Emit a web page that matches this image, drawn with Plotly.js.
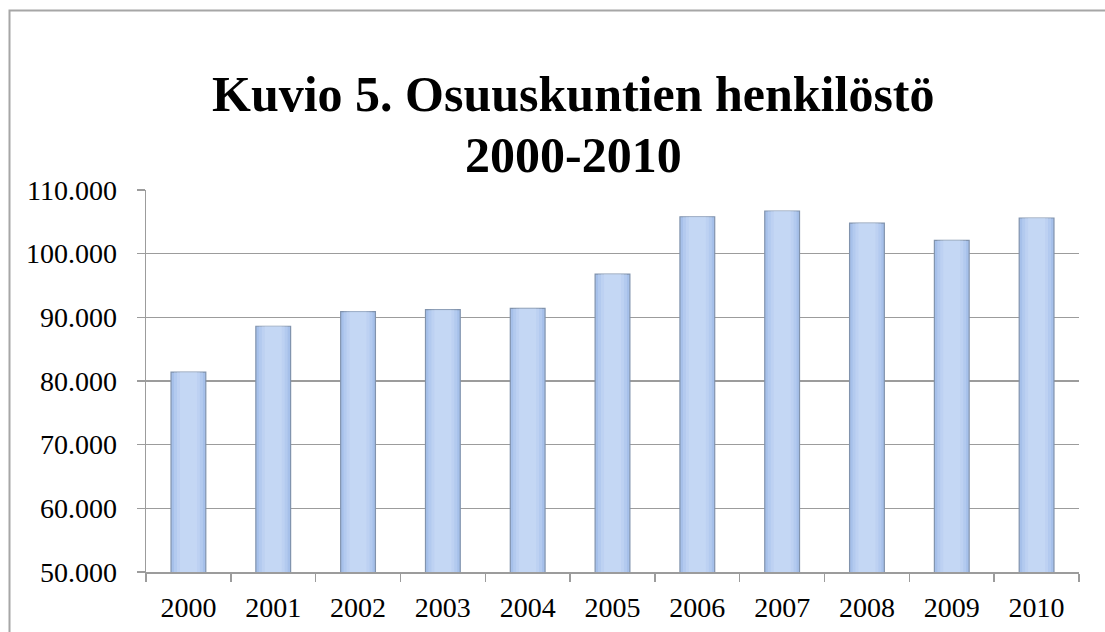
<!DOCTYPE html>
<html>
<head>
<meta charset="utf-8">
<script src="https://cdn.plot.ly/plotly-3.0.1.min.js"></script>
<style>
  html, body { margin: 0; padding: 0; background: #ffffff; }
  #chart { width: 1105px; height: 632px; }
</style>
</head>
<body>
<div id="chart"></div>
<script>
// Data
const years = ['2000', '2001', '2002', '2003', '2004', '2005', '2006', '2007', '2008', '2009', '2010'];
const staff = [81400, 88600, 90900, 91200, 91400, 96800, 105800, 106700, 104800, 102100, 105600];
const yTickValues = [50000, 60000, 70000, 80000, 90000, 100000, 110000];
const yTickLabels = ['50.000', '60.000', '70.000', '80.000', '90.000', '100.000', '110.000'];
const titleLine1 = 'Kuvio 5. Osuuskuntien henkilöstö';
const titleLine2 = '2000-2010';

const gridColor = '#9c9c9c';
const serif = 'Liberation Serif, Times New Roman, serif';

// base bar plus soft, progressively narrower highlight layers (same data)
const traces = [
  {
    type: 'bar',
    x: years,
    y: staff,
    width: 0.41,
    marker: { color: '#a6c0ea', line: { color: '#8193ad', width: 1.2 } },
    hoverinfo: 'x+y'
  }
];
const highlightWidths = [0.34, 0.27, 0.2];
highlightWidths.forEach(function (w) {
  traces.push({
    type: 'bar',
    x: years,
    y: staff,
    width: w,
    marker: { color: 'rgba(214,230,252,0.28)', line: { width: 0 } },
    hoverinfo: 'skip'
  });
});

const layout = {
  width: 1105,
  height: 632,
  margin: { l: 146, r: 26, t: 190, b: 60 },
  paper_bgcolor: '#ffffff',
  plot_bgcolor: '#ffffff',
  showlegend: false,
  barmode: 'overlay',
  font: { family: serif, color: '#000000', size: 28 },
  xaxis: {
    type: 'category',
    tickson: 'boundaries',
    ticks: 'outside',
    ticklen: 8,
    tickwidth: 1.5,
    tickcolor: gridColor,
    showline: true,
    linecolor: gridColor,
    linewidth: 1.5,
    showgrid: false,
    ticklabelstandoff: 10,
    tickfont: { family: serif, size: 28, color: '#000000' }
  },
  yaxis: {
    range: [50000, 110000],
    tickvals: yTickValues,
    ticktext: yTickLabels,
    ticks: 'outside',
    ticklen: 8,
    tickwidth: 1.5,
    tickcolor: gridColor,
    showline: true,
    linecolor: gridColor,
    linewidth: 1.5,
    showgrid: true,
    gridcolor: gridColor,
    gridwidth: 1.5,
    zeroline: false,
    ticklabelstandoff: 14,
    tickfont: { family: serif, size: 28, color: '#000000' }
  },
  annotations: [
    {
      text: '<b>' + titleLine1 + '</b>',
      xref: 'paper', yref: 'paper',
      x: 0.4587, y: 1.2526,
      xanchor: 'center', yanchor: 'middle',
      showarrow: false,
      font: { family: serif, size: 50, color: '#000000' }
    },
    {
      text: '<b>' + titleLine2 + '</b>',
      xref: 'paper', yref: 'paper',
      x: 0.4587, y: 1.0916,
      xanchor: 'center', yanchor: 'middle',
      showarrow: false,
      font: { family: serif, size: 50, color: '#000000' }
    }
  ],
  shapes: [
    {
      type: 'rect',
      xref: 'paper', yref: 'paper',
      x0: -0.1463, x1: 1.2,
      y0: -0.4, y1: 1.4699,
      line: { color: '#a6a6a6', width: 2 },
      fillcolor: 'rgba(0,0,0,0)',
      layer: 'below'
    }
  ]
};

Plotly.newPlot('chart', traces, layout, { displayModeBar: false, staticPlot: true });
</script>
</body>
</html>
